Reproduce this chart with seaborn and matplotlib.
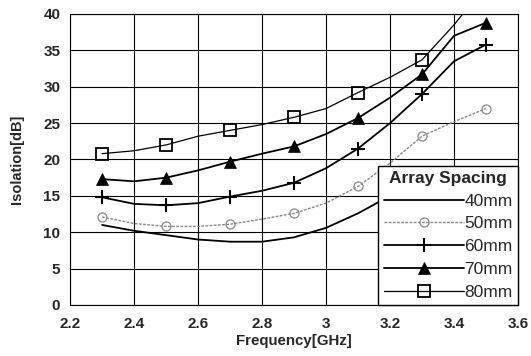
import matplotlib
matplotlib.use("Agg")
import matplotlib.pyplot as plt
import seaborn as sns
import numpy as np

freq = [2.3, 2.4, 2.5, 2.6, 2.7, 2.8, 2.9, 3.0, 3.1, 3.2, 3.3, 3.4, 3.5]
iso_40 = [11.0, 10.2, 9.6, 9.0, 8.7, 8.7, 9.3, 10.6, 12.6, 15.0, 16.8, 17.6, 18.2]
iso_50 = [12.1, 11.2, 10.8, 10.8, 11.1, 11.8, 12.6, 14.0, 16.3, 19.5, 23.2, 25.2, 27.0]
iso_60 = [14.8, 13.9, 13.7, 14.0, 14.9, 15.7, 16.8, 18.8, 21.5, 25.0, 29.0, 33.5, 35.8]
iso_70 = [17.3, 17.0, 17.5, 18.5, 19.7, 20.8, 21.8, 23.5, 25.7, 28.5, 31.7, 37.0, 38.8]
iso_80 = [20.8, 21.2, 22.0, 23.2, 24.0, 24.8, 25.8, 27.0, 29.2, 31.3, 33.7, 38.5, 44.0]
labels = ["40mm", "50mm", "60mm", "70mm", "80mm"]
xticks = [2.2, 2.4, 2.6, 2.8, 3.0, 3.2, 3.4, 3.6]
xtick_labels = ["2.2", "2.4", "2.6", "2.8", "3", "3.2", "3.4", "3.6"]
yticks = [0, 5, 10, 15, 20, 25, 30, 35, 40]

sns.set_style("white")
plt.rcParams['font.family'] = ['Liberation Sans', 'DejaVu Sans']

fig = plt.figure(figsize=(5.31, 3.56), dpi=100)
ax = fig.add_axes([0.132, 0.1433, 0.8435, 0.8174])

styles = [
    dict(color="black", lw=1.3, marker=None),
    dict(color="#888888", lw=1.0, ls=(0, (2, 1)), marker="o", ms=6.5, mfc="none", mec="#888888", mew=0.9),
    dict(color="black", lw=1.3, marker="+", ms=10, mec="black", mew=1.5),
    dict(color="black", lw=1.3, marker="^", ms=8, mfc="black", mec="black", mew=0.5),
    dict(color="black", lw=0.9, marker="s", ms=8, mfc="none", mec="black", mew=1.3),
]
series = [iso_40, iso_50, iso_60, iso_70, iso_80]
for vals, lab, st in zip(series, labels, styles):
    sns.lineplot(x=freq, y=vals, ax=ax, label=lab, markevery=2, **st)

ax.set_xlim(2.2, 3.6)
ax.set_ylim(0, 40)
ax.set_xticks(xticks)
ax.set_xticklabels(xtick_labels)
ax.set_yticks(yticks)
ax.grid(True, color="black", lw=0.8)
for s in ax.spines.values():
    s.set_color("black")
    s.set_linewidth(0.8)
ax.tick_params(axis="both", labelsize=11, length=0)
ax.tick_params(axis="x", pad=9)
ax.tick_params(axis="y", pad=7)
for t in ax.get_xticklabels() + ax.get_yticklabels():
    t.set_fontweight("bold")
ax.set_xlabel("Frequency[GHz]", fontsize=10.8, fontweight="bold", labelpad=2)
ax.set_ylabel("Isolation[dB]", fontsize=10.5, fontweight="bold", labelpad=14)

leg = ax.legend(loc="lower right", title="Array Spacing", fontsize=12.5,
                title_fontproperties={"weight": "bold", "size": 12.5},
                frameon=True, fancybox=False, borderaxespad=0.0,
                handlelength=4.6, handletextpad=0.05, labelspacing=0.44,
                borderpad=0.3, edgecolor="black", framealpha=1)
leg.get_frame().set_linewidth(1.0)
leg.set_zorder(5)

fig.savefig("out.png", dpi=100)
